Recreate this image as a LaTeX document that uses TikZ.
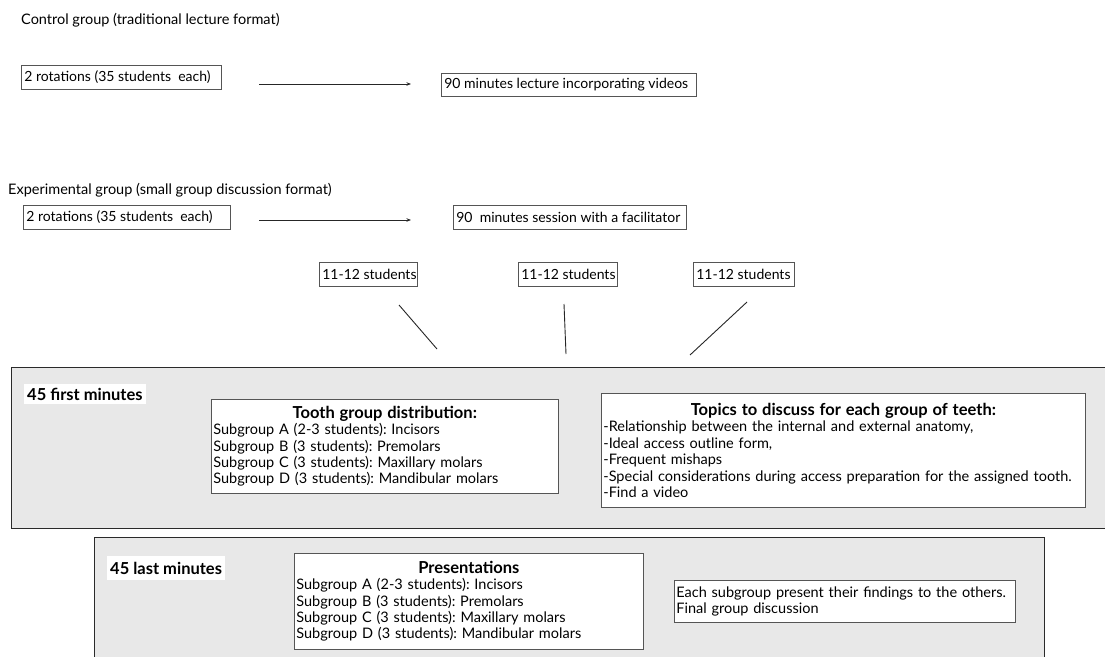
\documentclass[tikz,border=0pt]{standalone}
\usepackage{fontspec}
\setmainfont{Lato}
\frenchspacing
\usetikzlibrary{arrows.meta}
\definecolor{panelgray}{HTML}{E8E8E8}
\definecolor{edgegray}{HTML}{555555}
\definecolor{paneledge}{HTML}{2A2A2A}
\tikzset{
  txt/.style={inner sep=0pt, font=\fontsize{14.5}{16}\selectfont},
  onebox/.style={draw=edgegray, line width=0.7pt, fill=white, inner xsep=3pt, inner ysep=0pt,
    font=\fontsize{14}{16}\selectfont, anchor=north west},
  listbox/.style={draw=edgegray, line width=0.7pt, fill=white, inner xsep=2pt, inner ysep=0.5pt,
    font=\fontsize{14.5}{16.4}\selectfont, anchor=north west},
  panel/.style={draw=paneledge, line width=1.3pt, fill=panelgray, anchor=north west, inner sep=0pt},
  tag/.style={fill=white, inner xsep=3pt, inner ysep=0pt, font=\fontsize{16.5}{18}\selectfont\bfseries, anchor=north west},
  arr/.style={-{Stealth[length=4.5pt,width=3.5pt]}, line width=1pt, black!85},
  lnk/.style={line width=0.9pt, black!85}
}
\newcommand{\headline}[1]{{\centering\fontsize{16.5}{18}\selectfont\bfseries #1\par}}
\newcommand{\lbox}[2]{\makebox[#1][l]{#2}}
\begin{document}
\begin{tikzpicture}[x=1pt,y=-1pt]
\useasboundingbox (0,0) rectangle (1105,656);
\fill[white] (0,0) rectangle (1105,656);

% Control group
\node[txt, anchor=west] (ctitle) at (21,20) {Control group (traditional lecture format)};
\node[onebox, minimum height=24pt] (c1) at (21,65) {\lbox{194pt}{2 rotations (35 students\ \ each)}};
\node[onebox, minimum height=23pt] (c2) at (441,73) {\lbox{249pt}{90 minutes lecture incorporating videos}};
\coordinate (ca) at (259,84);
\coordinate (cb) at (411,84);
\draw[arr] (ca) -- (cb);

% Experimental group
\node[txt, anchor=west] (etitle) at (8,190) {Experimental group (small group discussion format)};
\node[onebox, minimum height=24pt] (e1) at (23,205) {\lbox{201pt}{2 rotations (35 students\ \ each)}};
\node[onebox, minimum height=24pt] (e2) at (453,205) {\lbox{227pt}{90\ \ minutes session with a facilitator}};
\coordinate (ea) at (259,220);
\coordinate (eb) at (411,220);
\draw[arr] (ea) -- (eb);

\node[onebox, minimum height=24pt] (s1) at (319,262) {\lbox{92pt}{11-12 students}};
\node[onebox, minimum height=24pt] (s2) at (518,262) {\lbox{93pt}{11-12 students}};
\node[onebox, minimum height=24pt] (s3) at (693,262) {\lbox{95pt}{11-12 students}};

\coordinate (l1a) at (399,305); \coordinate (l1b) at (437,349);
\coordinate (l2a) at (564,304); \coordinate (l2b) at (566,354);
\coordinate (l3a) at (747,302); \coordinate (l3b) at (690,355);
\draw[lnk] (l1a) -- (l1b);
\draw[lnk] (l2a) -- (l2b);
\draw[lnk] (l3a) -- (l3b);

% First 45 minutes panel
\node[panel, minimum width=1100pt, minimum height=161pt] (p1) at (11,367) {};
\node[tag, minimum height=20pt] (t1) at (24,384) {45 first minutes};
\node[listbox, text width=343pt, minimum height=94pt] (tooth) at (211,399)
  {\headline{Tooth group distribution:}
   Subgroup A (2-3 students): Incisors\\
   Subgroup B (3 students): Premolars\\
   Subgroup C (3 students): Maxillary molars\\
   Subgroup D (3 students): Mandibular molars};
\node[listbox, text width=480pt, minimum height=114pt] (topics) at (601,393)
  {\headline{Topics to discuss for each group of teeth:}
   -Relationship between the internal and external anatomy,\\
   -Ideal access outline form,\\
   -Frequent mishaps\\
   -Special considerations during access preparation for the assigned tooth.\\
   -Find a video};

% Last 45 minutes panel
\node[panel, minimum width=950pt, minimum height=125pt] (p2) at (94,537) {};
\node[tag, minimum height=24pt] (t2) at (107,556) {45 last minutes};
\node[listbox, text width=345pt, minimum height=96pt] (pres) at (294,553)
  {\headline{Presentations}
   Subgroup A (2-3 students): Incisors\\
   Subgroup B (3 students): Premolars\\
   Subgroup C (3 students): Maxillary molars\\
   Subgroup D (3 students): Mandibular molars};
\node[listbox, text width=337pt, minimum height=42pt, inner ysep=1.5pt] (each) at (674,580)
  {Each subgroup present their findings to the others.\\
   Final group discussion};
\end{tikzpicture}
\end{document}
